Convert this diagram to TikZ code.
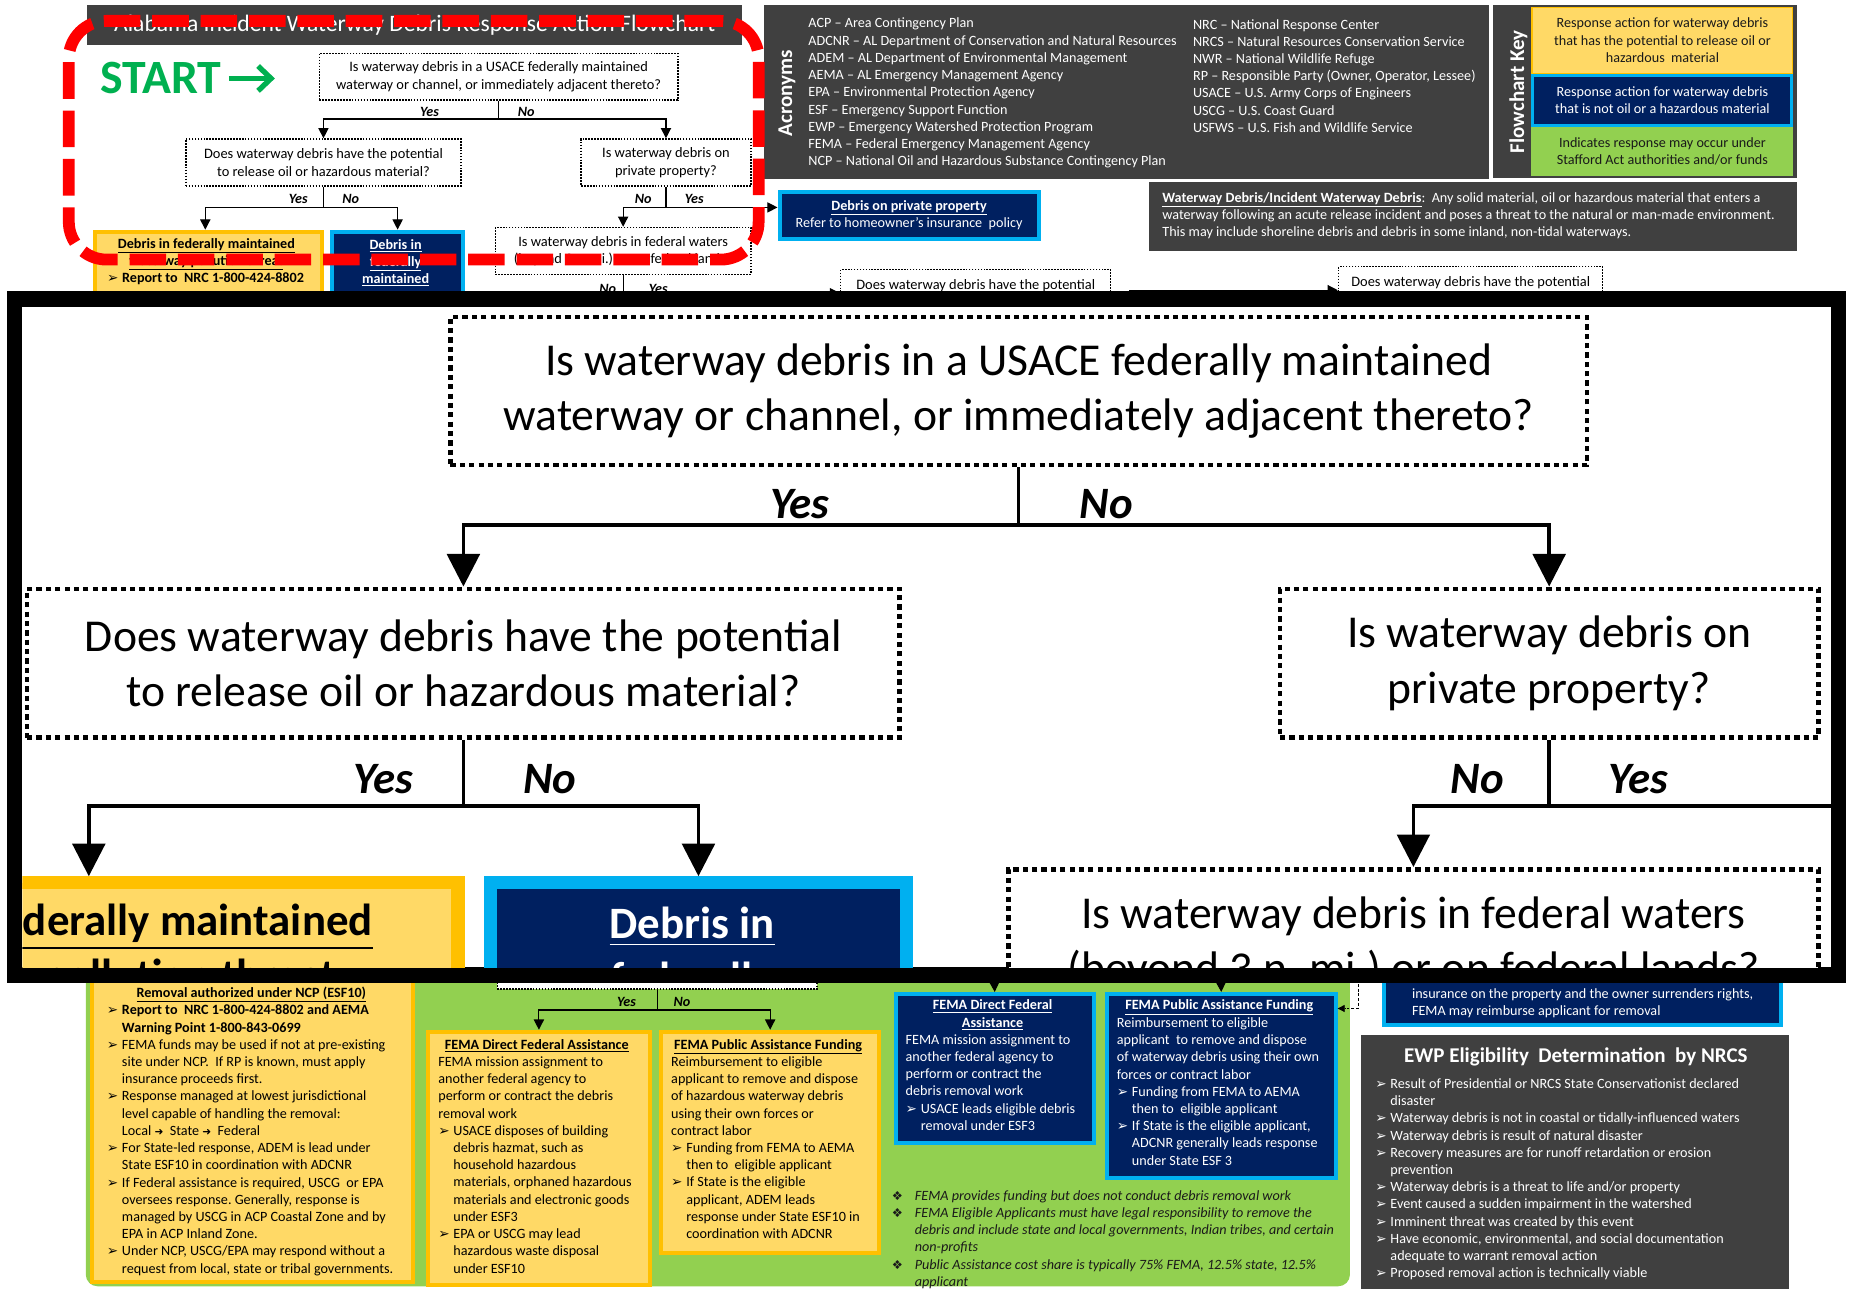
\documentclass[tikz,border=0pt]{standalone}
\usepackage{fontspec}
\setmainfont{Carlito}
\newfontfamily\symf{DejaVu Sans}
\usepackage{xcolor}
\usepackage{tikz}
\usetikzlibrary{arrows.meta}

\definecolor{panelgray}{HTML}{404040}
\definecolor{flownavy}{HTML}{002060}
\definecolor{ltblue}{HTML}{00B0F0}
\definecolor{boxyel}{HTML}{FFD966}
\definecolor{boxgold}{HTML}{FFC000}
\definecolor{keygreen}{HTML}{92D050}
\definecolor{startgreen}{HTML}{00B050}
\definecolor{inkblack}{HTML}{1A1A1A}

\newcommand{\bodyf}{\fontsize{12}{14.6}\selectfont}
\newcommand{\qf}{\fontsize{12.2}{14.8}\selectfont}
\newcommand{\bigf}{\fontsize{17.8}{20}\selectfont}
\newcommand{\bullt}{\makebox[12.8pt][l]{\symf\fontsize{11.5}{11.5}\selectfont ➢}}
\newcommand{\indt}{\hspace*{12.8pt}}
\newcommand{\diamb}{\makebox[19.5pt][l]{\symf\fontsize{10.5}{10.5}\selectfont ❖}}
\newcommand{\indd}{\hspace*{19.5pt}}
\newcommand{\rarr}{{\symf\fontsize{9}{9}\selectfont ➜}}

% top of the flowchart: drawn in place and again blown up in the inset
\newcommand{\topflow}{%
  \node[qbox, minimum width=303.8pt, minimum height=39.5pt] (q1) at (422.6,64.95)
    {Is waterway debris in a USACE federally maintained\\waterway or channel, or immediately adjacent thereto?};
  \node[qbox, minimum width=233.3pt, minimum height=39.8pt] (q2) at (274.15,137.7)
    {Does waterway debris have the potential\\to release oil or hazardous material?};
  \node[qbox, minimum width=143.9pt, minimum height=39.8pt] (q3) at (564.45,137.7)
    {Is waterway debris on\\private property?};
  \node[qbox, minimum width=216.5pt, minimum height=39.7pt] (q4) at (528.15,212.65)
    {Is waterway debris in federal waters\\(beyond 3 n. mi.) or on federal lands?};
  \node[ybox, minimum width=192.2pt, minimum height=106.6pt, anchor=north west] (ybt) at (78.75,194.65) {};
  \node[txt, anchor=north, align=center, font=\bfseries\bodyf] (ybtt) at (174.9,200.1)
    {\strut\underline{Debris in federally maintained}\\\underline{waterway pollution threat}};
  \node[txt, font=\bfseries\bodyf] (ybtl) at (90.5,229) {\strut\bullt Report to\ \ NRC 1-800-424-8802};
  \node[nbox, minimum width=111pt, minimum height=106.6pt, anchor=north west] (nbt) at (279.75,194.65) {};
  \node[txt, anchor=north, align=center, font=\bfseries\bodyf, text=white] (nbtt) at (335.3,201)
    {\strut\underline{Debris in}\\\underline{federally}\\\underline{maintained}};
  \node[nbox, minimum width=219.5pt, minimum height=39.5pt, align=center, font=\bodyf] (pp) at (770.5,182.5)
    {\textbf{\underline{Debris on private property}}\\Refer to homeowner’s insurance\ \ policy};
  \coordinate (j1) at (422.6,100.8);
  \coordinate (j2) at (274.15,175.8);
  \coordinate (j3) at (564.45,175.8);
  \draw[arr] (q1.south) -- (j1) -| (q2.north);
  \draw[arr] (j1) -| (q3.north);
  \draw[arr] (q2.south) -- (j2) -| ([xshift=-2.6pt]ybt.north);
  \draw[arr] (j2) -| (nbt.north);
  \draw[arr] (q3.south) -- (j3) -| (q4.north);
  \draw[arr] (j3) -- (j3 -| pp.west);
  \node[lbl] (l1y) at (364.1,95.1) {Yes};
  \node[lbl] (l1n) at (446.1,95.1) {No};
  \node[lbl] (l2y) at (252.8,168.6) {Yes};
  \node[lbl] (l2n) at (297.3,168.6) {No};
  \node[lbl] (l3n) at (545.2,168.6) {No};
  \node[lbl] (l3y) at (588.4,168.6) {Yes};
}

\begin{document}
\frenchspacing
\begin{tikzpicture}[x=1pt, y=-1pt,
    qbox/.style={draw, line width=1.2pt, dash pattern=on 1.4pt off 1.1pt, fill=white, align=center, font=\qf, inner sep=0pt},
    ybox/.style={fill=boxyel, draw=boxgold, line width=3.5pt, inner sep=0pt},
    nbox/.style={fill=flownavy, draw=ltblue, line width=3.5pt, inner sep=0pt, text=white},
    panel/.style={fill=panelgray, inner sep=0pt},
    keybox/.style={minimum width=222pt, inner sep=0pt, align=center, font=\bodyf, text=inkblack},
    txt/.style={anchor=north west, inner sep=0pt, align=left, font=\bodyf},
    lbl/.style={inner sep=0pt, font=\bfseries\itshape\fontsize{12}{12}\selectfont},
    arr/.style={-{Triangle[length=8.7pt,width=8.7pt]}, line width=1pt},
    darr/.style={-{Triangle[length=6pt,width=6pt]}, line width=0.8pt, dash pattern=on 2.5pt off 1.5pt},
    startarr/.style={startgreen, line width=4.5pt, -{Straight Barb[length=11pt,width=21pt]}},
    zoomframe/.style={draw=red, line width=10pt, dash pattern=on 31pt off 10pt, rounded corners=32pt, inner sep=0pt}
]
\useasboundingbox (0,0) rectangle (1568,1092);
\fill[white] (0,0) rectangle (1568,1092);

% lower part of the chart
\node[fill=keygreen, rounded corners=10pt, minimum width=1071.5pt, minimum height=390pt, anchor=north west, inner sep=0pt] (stafford) at (72.5,700) {};
\node[ybox, minimum width=271.9pt, minimum height=383.25pt, anchor=north west] (ncp) at (76.35,701.75) {};
\node[txt, anchor=north, font=\bfseries\bodyf] (ncpt) at (213,835) {\strut\underline{Removal authorized under NCP (ESF10)}};
\node[txt] (ncpl) at (90.4,849.7) {\strut\bullt\textbf{Report to\ \ NRC 1-800-424-8802 and AEMA}\\
  \indt\textbf{Warning Point 1-800-843-0699}\\
  \bullt FEMA funds may be used if not at pre-existing\\
  \indt site under NCP.\ \ If RP is known, must apply\\
  \indt insurance proceeds first.\\
  \bullt Response managed at lowest jurisdictional\\
  \indt level capable of handling the removal:\\
  \indt Local \rarr\ \ State \rarr\ \ Federal\\
  \bullt For State-led response, ADEM is lead under\\
  \indt State ESF10 in coordination with ADCNR\\
  \bullt If Federal assistance is required, USCG\ \ or EPA\\
  \indt oversees response. Generally, response is\\
  \indt managed by USCG in ACP Coastal Zone and by\\
  \indt EPA in ACP Inland Zone.\\
  \bullt Under NCP, USCG/EPA may respond without a\\
  \indt request from local, state or tribal governments.};

\node[qbox, minimum width=270.8pt, minimum height=40.8pt] (bq) at (557,818) {};
\node[ybox, minimum width=188.5pt, minimum height=214.5pt, anchor=north west] (fdy) at (360.75,872.75) {};
\node[txt, anchor=north, font=\bfseries\bodyf] (fdyt) at (455,879) {\strut\underline{FEMA Direct Federal Assistance}};
\node[txt] (fdyl) at (371.3,893.4) {\strut FEMA mission assignment to\\another federal agency to\\perform or contract the debris\\removal work\\
  \bullt USACE disposes of building\\\indt debris hazmat, such as\\\indt household hazardous\\\indt materials, orphaned hazardous\\
  \indt materials and electronic goods\\\indt under ESF3\\
  \bullt EPA or USCG may lead\\\indt hazardous waste disposal\\\indt under ESF10};
\node[ybox, minimum width=184.5pt, minimum height=187.5pt, anchor=north west] (fpy) at (558.75,872.75) {};
\node[txt, anchor=north, font=\bfseries\bodyf] (fpyt) at (651,879) {\strut\underline{FEMA Public Assistance Funding}};
\node[txt] (fpyl) at (568.7,893.4) {\strut Reimbursement to eligible\\applicant to remove and dispose\\of hazardous waterway debris\\using their own forces or\\contract labor\\
  \bullt Funding from FEMA to AEMA\\\indt then to\ \ eligible applicant\\
  \bullt If State is the eligible\\\indt applicant, ADEM leads\\\indt response under State ESF10 in\\\indt coordination with ADCNR};
\coordinate (jb) at (557,856);
\draw[arr] (bq.south) -- (jb) -| (fdy.north);
\draw[arr] (jb) -| (fpy.north);
\node[lbl] (bly) at (531,849) {Yes};
\node[lbl] (bln) at (578,849) {No};

\node[nbox, minimum width=167.8pt, minimum height=126.1pt, anchor=north west] (dfn) at (757.45,840.75) {};
\node[txt, anchor=north, align=center, font=\bfseries\bodyf, text=white] (dfnt) at (841.3,845.6) {\strut\underline{FEMA Direct Federal}\\\underline{Assistance}};
\node[txt, text=white] (dfnl) at (767.4,874.6) {\strut FEMA mission assignment to\\another federal agency to\\perform or contract the\\debris removal work\\
  \bullt USACE leads eligible debris\\\indt removal under ESF3};
\node[nbox, minimum width=193.8pt, minimum height=156pt, anchor=north west] (pan) at (936.45,840.75) {};
\node[txt, anchor=north, font=\bfseries\bodyf, text=white] (pant) at (1033.4,845.6) {\strut\underline{FEMA Public Assistance Funding}};
\node[txt, text=white] (panl) at (946.4,860.3) {\strut Reimbursement to eligible\\applicant\ \ to remove and dispose\\of waterway debris using their own\\forces or contract labor\\
  \bullt Funding from FEMA to AEMA\\\indt then to\ \ eligible applicant\\
  \bullt If State is the eligible applicant,\\\indt ADCNR generally leads response\\\indt under State ESF 3};
\coordinate (dfsrc) at (841.3,790);
\coordinate (pasrc) at (1033.4,790);
\coordinate (rsrc) at (1151,790);
\draw[arr] (dfsrc) -- (dfn.north);
\draw[arr] (pasrc) -- (pan.north);
\draw[darr] (rsrc) |- ([yshift=-14pt]pan.north east);

\node[txt, font=\itshape\bodyf, text=inkblack] (notes) at (755.7,1006.8) {\strut\diamb FEMA provides funding but does not conduct debris removal work\\
  \diamb FEMA Eligible Applicants must have legal responsibility to remove the\\
  \indd debris and include state and local governments, Indian tribes, and certain\\
  \indd non-profits\\
  \diamb Public Assistance cost share is typically 75\% FEMA, 12.5\% state, 12.5\%\\
  \indd applicant};

\node[nbox, minimum width=336.1pt, minimum height=85.3pt, anchor=north west] (rnb) at (1171.45,781.75) {};
\node[txt, text=white] (rnbt) at (1196.6,836) {\strut insurance on the property and the owner surrenders rights,\\FEMA may reimburse applicant for removal};
\node[panel, minimum width=362.8pt, minimum height=214.7pt, anchor=north west] (ewp) at (1153.6,877.3) {};
\node[text=white, font=\bfseries\bigf, inner sep=0pt] (ewpt) at (1335.6,896) {EWP Eligibility\ \ Determination\ \ by NRCS};
\node[txt, text=white] (ewpl) at (1165.5,912) {\strut\bullt Result of Presidential or NRCS State Conservationist declared\\
  \indt disaster\\
  \bullt Waterway debris is not in coastal or tidally-influenced waters\\
  \bullt Waterway debris is result of natural disaster\\
  \bullt Recovery measures are for runoff retardation or erosion\\
  \indt prevention\\
  \bullt Waterway debris is a threat to life and/or property\\
  \bullt Event caused a sudden impairment in the watershed\\
  \bullt Imminent threat was created by this event\\
  \bullt Have economic, environmental, and social documentation\\
  \indt adequate to warrant removal action\\
  \bullt Proposed removal action is technically viable};

% upper part of the chart
\topflow
\node[qbox, minimum width=228.8pt, minimum height=39.8pt] (ew1) at (827,248.5) {Does waterway debris have the potential\\\mbox{}};
\node[qbox, minimum width=223.8pt, minimum height=39.8pt] (ew2) at (1246.5,246) {Does waterway debris have the potential\\\mbox{}};
\coordinate (ewsrc) at (957.5,290);
\draw[arr] (ewsrc) |- (ew2.west);
\draw[arr] (q4.south) |- (ew1.west);
\node[lbl] (l4n) at (515,245) {No};
\node[lbl] (l4y) at (558,245) {Yes};

\node[panel, minimum width=555pt, minimum height=34pt, text=white, font=\fontsize{20}{22}\selectfont] (title) at (351.5,21)
  {Alabama Incident Waterway Debris Response Action Flowchart};
\node[anchor=west, inner sep=0pt, text=startgreen, font=\bfseries\fontsize{40.5}{42}\selectfont] (start) at (85,66.5) {START};
\coordinate (startend) at (233,66.5);
\draw[startarr] ([xshift=6pt]start.east) -- (startend);

\node[panel, minimum width=614.5pt, minimum height=147.8pt] (acro) at (954.75,78.1) {};
\node[rotate=90, text=white, font=\bfseries\bigf, inner sep=0pt] (acrot) at (667,79) {Acronyms};
\node[txt, text=white] (acl) at (685,13.3) {\strut ACP – Area Contingency Plan\\
  ADCNR – AL Department of Conservation and Natural Resources\\
  ADEM – AL Department of Environmental Management\\
  AEMA – AL Emergency Management Agency\\
  EPA – Environmental Protection Agency\\
  ESF – Emergency Support Function\\
  EWP – Emergency Watershed Protection Program\\
  FEMA – Federal Emergency Management Agency\\
  NCP – National Oil and Hazardous Substance Contingency Plan};
\node[txt, text=white] (acr) at (1011,14.2) {\strut NRC – National Response Center\\
  NRCS – Natural Resources Conservation Service\\
  NWR – National Wildlife Refuge\\
  RP – Responsible Party (Owner, Operator, Lessee)\\
  USACE – U.S. Army Corps of Engineers\\
  USCG – U.S. Coast Guard\\
  USFWS – U.S. Fish and Wildlife Service};

\node[panel, minimum width=258pt, minimum height=146.8pt] (keyp) at (1394,77.6) {};
\node[rotate=90, text=white, font=\bfseries\bigf, inner sep=0pt] (keyt) at (1287,77.7) {Flowchart Key};
\node[keybox, fill=boxyel, draw=boxgold, line width=1pt, minimum width=221pt, minimum height=56.1pt] (k1) at (1409,34.15)
  {Response action for waterway debris\\that has the potential to release oil or\\hazardous\ \ material};
\node[keybox, fill=flownavy, draw=ltblue, line width=2.5pt, minimum width=219.5pt, minimum height=42.2pt, text=white] (k2) at (1409,85.05)
  {Response action for waterway debris\\that is not oil or a hazardous material};
\node[keybox, fill=keygreen, minimum height=41.6pt] (k3) at (1409,128.2)
  {Indicates response may occur under\\Stafford Act authorities and/or funds};

\node[panel, minimum width=549pt, minimum height=58.5pt] (defp) at (1248.5,183.25) {};
\node[txt, text=white] (deft) at (985,161) {\strut\textbf{\underline{Waterway Debris/Incident Waterway Debris}}:\ \ Any solid material, oil or hazardous material that enters a\\
  waterway following an acute release incident and poses a threat to the natural or man-made environment.\\
  This may include shoreline debris and debris in some inland, non-tidal waterways.};

\node[zoomframe, minimum width=584.7pt, minimum height=202.3pt] (zf) at (350.65,118.85) {};

% magnified inset
\node[draw, line width=13pt, fill=white, minimum width=1546pt, minimum height=573pt, inner sep=0pt] (inset) at (785.5,540) {};
\begin{scope}
  \clip (19,260) rectangle (1552,820);
  \begin{scope}[transform canvas={shift={(-476.3,125.6)}, scale=3.17}]
    \topflow
  \end{scope}
\end{scope}
\end{tikzpicture}
\end{document}
